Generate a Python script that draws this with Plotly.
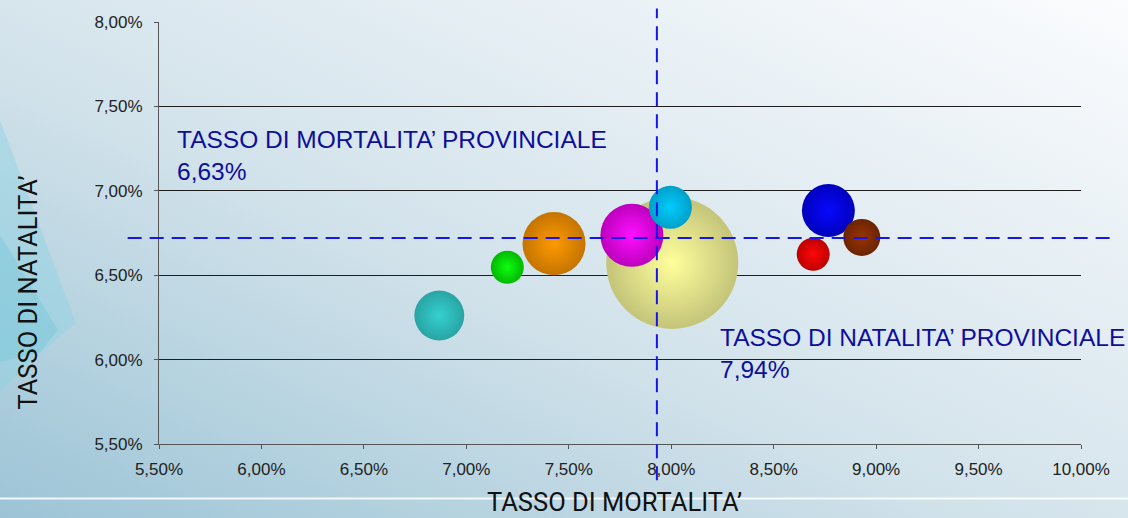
import base64
import plotly.graph_objects as go

# ---------------- data ----------------
tasso_mortalita = [8.005, 6.868, 7.200, 7.428, 7.808, 7.996, 8.767, 8.930, 8.693]
tasso_natalita = [6.573, 6.261, 6.547, 6.687, 6.736, 6.902, 6.883, 6.724, 6.624]
dimensione = [100.0, 14.3, 6.25, 22.8, 22.8, 10.6, 16.1, 7.86, 6.25]
colore_centro = ["#FFFF9C", "#36D0D0", "#10FF10", "#FF9A00", "#FF10FF",
                 "#00CCFF", "#0808FF", "#9A3300", "#FF0808"]
colore_bordo = ["#C4C47A", "#28A4A4", "#00B800", "#C47400", "#BC00BC",
                "#00A0C8", "#0000BC", "#6A2400", "#BC0000"]

linea_mortalita = 7.93   # vertical dashed line (x)
linea_natalita = 6.72    # horizontal dashed line (y)
etichetta_mortalita = "TASSO DI MORTALITA’ PROVINCIALE<br>6,63%"
etichetta_natalita = "TASSO DI NATALITA’ PROVINCIALE<br>7,94%"
titolo_x = "TASSO DI MORTALITA’"
titolo_y = "TASSO DI NATALITA’"

W, H = 1128, 518
L, R, T, B = 159, 47, 22, 74
pw, ph = W - L - R, H - T - B

# ---------------- background (decorative) ----------------
bg_svg = f'''<svg xmlns="http://www.w3.org/2000/svg" width="{W}" height="{H}" viewBox="0 0 {W} {H}" preserveAspectRatio="none">
<defs><linearGradient id="g" x1="0" y1="1" x2="1" y2="0">
<stop offset="0" stop-color="#9CC4D6"/>
<stop offset="0.45" stop-color="#D3E3EB"/>
<stop offset="1" stop-color="#FBFCFE"/>
</linearGradient></defs>
<rect width="{W}" height="{H}" fill="url(#g)"/>
<polygon points="0,120 76,323 44,350 0,392" fill="#8ED3E2" fill-opacity="0.45"/>
<polygon points="0,235 58,330 40,352 0,362" fill="#78C8DB" fill-opacity="0.45"/>
<line x1="0" y1="498.5" x2="{W}" y2="498.5" stroke="#FFFFFF" stroke-width="2" stroke-opacity="0.85"/>
</svg>'''
bg_uri = "data:image/svg+xml;base64," + base64.b64encode(bg_svg.encode()).decode()

DIAM_MAX = 132  # px diameter of the largest bubble
fig = go.Figure()
fig.add_trace(go.Scatter(
    x=tasso_mortalita, y=tasso_natalita, mode="markers",
    marker=dict(
        size=dimensione, sizemode="area", sizeref=2.0 * max(dimensione) / DIAM_MAX ** 2,
        color=colore_bordo, opacity=1,
        gradient=dict(type="radial", color=colore_centro),
        line=dict(width=0),
    ),
    hoverinfo="skip", showlegend=False,
))

tick_font = dict(family="Liberation Sans, Arial, sans-serif", size=17, color="#222222")
dash_line = dict(color="#1616E6", width=2, dash="14px,8px")
note_font = dict(family="Liberation Sans, Arial, sans-serif", size=24.5, color="#0E0E9C")
title_font = dict(family="Roboto, sans-serif", size=25.5, color="#111111")

fig.update_layout(
    width=W, height=H,
    margin=dict(l=L, r=R, t=T, b=B, pad=0),
    paper_bgcolor="#DCE8EF", plot_bgcolor="rgba(0,0,0,0)",
    separators=",.",
    images=[dict(source=bg_uri, xref="paper", yref="paper",
                 x=-L / pw, y=1 + T / ph, sizex=W / pw, sizey=H / ph,
                 xanchor="left", yanchor="top", sizing="stretch", layer="below")],
    xaxis=dict(range=[5.5, 10.0], tick0=5.5, dtick=0.5, tickformat=".2f", ticksuffix="%",
               showgrid=False, zeroline=False, showline=True, linecolor="#555555", linewidth=1,
               ticks="outside", ticklen=4, tickcolor="#555555", tickfont=tick_font,
               ticklabelstandoff=6),
    yaxis=dict(range=[5.5, 8.0], tick0=5.5, dtick=0.5, tickformat=".2f", ticksuffix="%",
               showgrid=True, gridcolor="#1E1E1E", gridwidth=1, zeroline=False,
               showline=True, linecolor="#555555", linewidth=1,
               ticks="outside", ticklen=4, tickcolor="#555555", tickfont=tick_font,
               ticklabelstandoff=8),
    shapes=[
        dict(type="line", xref="x", yref="paper", x0=linea_mortalita, x1=linea_mortalita,
             y0=-0.086, y1=1.032, line=dash_line, layer="above"),
        dict(type="line", xref="paper", yref="y", x0=-0.034, x1=1.031,
             y0=linea_natalita, y1=linea_natalita, line=dash_line, layer="above"),
    ],
    annotations=[
        dict(text=etichetta_mortalita, xref="paper", yref="paper", x=0.0174, y=(H - B - 156) / ph,
             xanchor="left", yanchor="middle", align="left", showarrow=False, font=note_font),
        dict(text=etichetta_natalita, xref="paper", yref="paper", x=0.6065, y=(H - B - 353) / ph,
             xanchor="left", yanchor="middle", align="left", showarrow=False, font=note_font),
        dict(text=titolo_x, xref="paper", yref="paper", x=(614 - L) / pw, y=(H - B - 502) / ph,
             xanchor="center", yanchor="middle", showarrow=False, font=title_font),
        dict(text=titolo_y, xref="paper", yref="paper", x=(27 - L) / pw, y=(H - B - 292.5) / ph,
             xanchor="center", yanchor="middle", showarrow=False, textangle=-90, font=title_font),
    ],
)

fig.write_html("out.html", config={"displayModeBar": False},
               post_script="document.body.style.margin='0';document.body.style.overflow='hidden';")
